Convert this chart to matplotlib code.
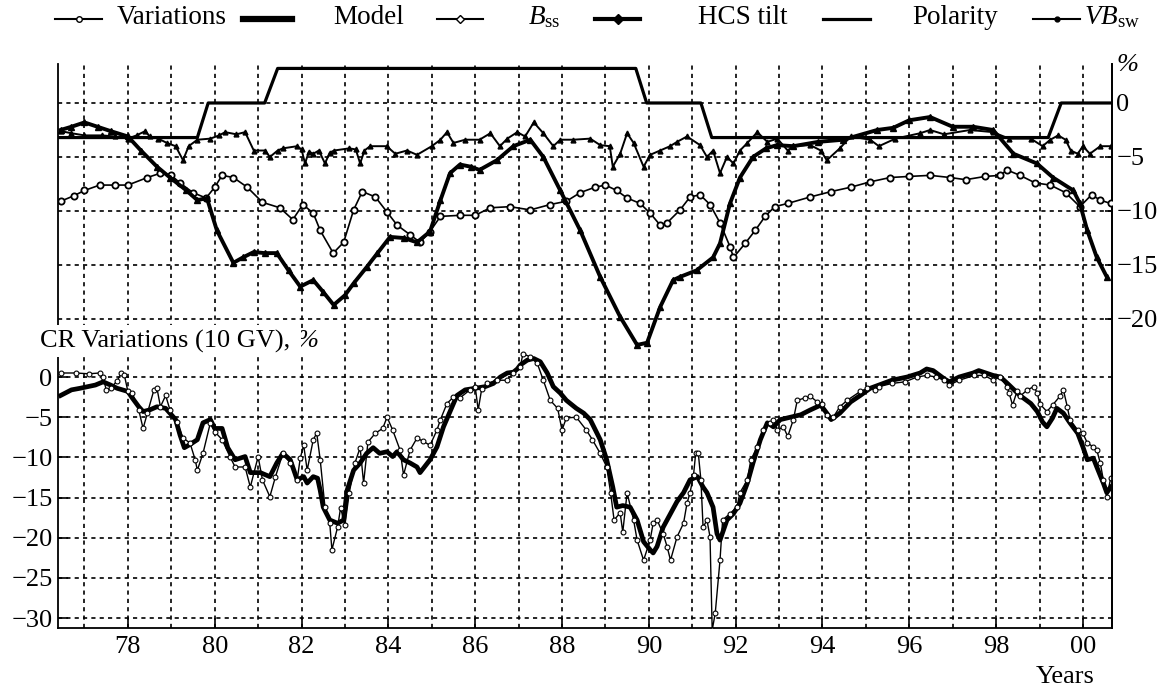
import matplotlib
matplotlib.use('Agg')
import matplotlib.pyplot as plt
from matplotlib.lines import Line2D

plt.rcParams['font.family'] = ['Liberation Serif', 'DejaVu Serif']
plt.rcParams['mathtext.fontset'] = 'custom'
plt.rcParams['mathtext.rm'] = 'Liberation Serif'
plt.rcParams['mathtext.it'] = 'Liberation Serif:italic'
plt.rcParams['axes.unicode_minus'] = True

# ---------------- data ----------------
pol_years = [1976.39, 1979.6, 1979.85, 1981.15, 1981.45, 1989.7, 1989.95,
             1991.2, 1991.45, 1999.2, 1999.5, 2000.67]
pol_vals = [-3.2, -3.2, 0, 0, 3.2, 3.2, 0, 0, -3.2, -3.2, 0, 0]

hcs_years = [1976.45, 1976.7, 1977.0, 1977.3, 1977.6, 1978.0, 1978.3, 1978.67,
             1978.97, 1979.35, 1979.6, 1979.82, 1980.05, 1980.43, 1980.65, 1980.9,
             1981.15, 1981.43, 1981.7, 1981.97, 1982.27, 1982.5, 1982.74, 1983.0,
             1983.2, 1983.5, 1983.75, 1984.04, 1984.35, 1984.66, 1984.96, 1985.2,
             1985.42, 1985.65, 1985.9, 1986.1, 1986.5, 1986.88, 1987.27, 1987.57,
             1987.96, 1988.42, 1988.88, 1989.34, 1989.73, 1989.96, 1990.26, 1990.56,
             1990.72, 1991.1, 1991.48, 1991.64, 1991.87, 1992.1, 1992.4, 1992.7,
             1992.95, 1993.33, 1993.9, 1994.48, 1995.26, 1995.63, 1996.0, 1996.48,
             1997.0, 1997.47, 1997.93, 1998.4, 1998.94, 1999.31, 1999.78, 1999.93,
             2000.1, 2000.32, 2000.55]
hcs_vals = [-2.5, -2.2, -1.8, -2.2, -2.6, -3.1, -4.4, -5.9,
            -6.9, -8.1, -9.0, -8.8, -11.8, -14.8, -14.3, -13.8,
            -13.9, -13.9, -15.5, -17.0, -16.4, -17.5, -18.7, -17.8,
            -16.7, -15.2, -13.9, -12.4, -12.5, -12.9, -11.9, -9.0,
            -6.5, -5.7, -5.9, -6.2, -5.3, -4.0, -3.4, -5.0,
            -8.1, -11.8, -16.1, -19.8, -22.4, -22.2, -18.9, -16.4,
            -16.1, -15.5, -14.3, -13.0, -9.3, -6.9, -5.0, -4.2,
            -3.9, -4.0, -3.6, -3.4, -2.5, -2.3, -1.6, -1.3,
            -2.2, -2.2, -2.5, -4.7, -5.6, -6.9, -8.1, -9.3,
            -11.8, -14.3, -16.1]

bss_years = [1976.45, 1976.75, 1977.0, 1977.35, 1977.7, 1978.0, 1978.45, 1978.75,
             1979.0, 1979.2, 1979.5, 1979.8, 1980.0, 1980.17, 1980.43, 1980.75,
             1981.1, 1981.5, 1981.8, 1982.03, 1982.27, 1982.43, 1982.73, 1982.97,
             1983.2, 1983.4, 1983.7, 1983.97, 1984.2, 1984.5, 1984.73, 1984.96,
             1985.2, 1985.65, 1986.0, 1986.35, 1986.8, 1987.27, 1987.73, 1988.1,
             1988.42, 1988.76, 1989.0, 1989.26, 1989.5, 1989.8, 1990.03, 1990.26,
             1990.42, 1990.72, 1990.95, 1991.18, 1991.41, 1991.64, 1991.87, 1991.95,
             1992.22, 1992.45, 1992.68, 1992.9, 1993.2, 1993.72, 1994.2, 1994.65,
             1995.1, 1995.56, 1996.0, 1996.48, 1996.94, 1997.3, 1997.75, 1998.1,
             1998.25, 1998.55, 1998.9, 1999.25, 1999.6, 1999.93, 2000.2, 2000.4,
             2000.64]
bss_vals = [-9.1, -8.6, -8.1, -7.6, -7.6, -7.6, -6.9, -6.5,
            -6.7, -7.4, -8.3, -8.8, -7.8, -6.7, -6.9, -7.8,
            -9.2, -9.7, -10.8, -9.4, -10.2, -11.8, -13.9, -12.9,
            -9.9, -8.2, -8.7, -10.1, -11.3, -12.2, -12.9, -11.9,
            -10.5, -10.4, -10.4, -9.7, -9.6, -9.9, -9.4, -9.1,
            -8.3, -7.8, -7.6, -8.1, -8.8, -9.3, -10.2, -11.3,
            -11.1, -9.9, -8.7, -8.5, -9.4, -11.1, -13.3, -14.3,
            -13.0, -11.8, -10.5, -9.6, -9.3, -8.7, -8.2, -7.8,
            -7.3, -6.9, -6.8, -6.7, -6.9, -7.1, -6.8, -6.7,
            -6.2, -6.7, -7.4, -7.6, -8.3, -9.6, -8.5, -9.0,
            -9.3]

vbsw_years = [1976.45, 1976.7, 1977.0, 1977.4, 1977.7, 1978.0, 1978.2, 1978.4,
              1978.5, 1978.7, 1978.9, 1979.1, 1979.27, 1979.4, 1979.6, 1979.9,
              1980.1, 1980.24, 1980.5, 1980.7, 1980.9, 1981.16, 1981.27, 1981.45,
              1981.57, 1981.9, 1982.0, 1982.08, 1982.17, 1982.27, 1982.4, 1982.54,
              1982.65, 1982.75, 1983.1, 1983.25, 1983.35, 1983.45, 1983.58, 1983.96,
              1984.16, 1984.43, 1984.66, 1985.0, 1985.2, 1985.35, 1985.5, 1985.77,
              1986.1, 1986.35, 1986.57, 1986.74, 1986.97, 1987.15, 1987.35, 1987.57,
              1987.8, 1987.96, 1988.26, 1988.65, 1988.88, 1989.1, 1989.17, 1989.34,
              1989.5, 1989.65, 1989.88, 1990.03, 1990.26, 1990.49, 1990.65, 1990.88,
              1991.18, 1991.34, 1991.48, 1991.64, 1991.8, 1991.95, 1992.1, 1992.27,
              1992.5, 1992.73, 1992.96, 1993.2, 1993.33, 1993.72, 1993.96, 1994.1,
              1994.4, 1994.65, 1995.1, 1995.3, 1995.68, 1996.25, 1996.48, 1996.8,
              1997.4, 1997.93, 1998.3, 1998.8, 1999.07, 1999.25, 1999.43, 1999.6,
              1999.72, 1999.88, 2000.0, 2000.16, 2000.4, 2000.64]
vbsw_vals = [-2.6, -2.8, -3.0, -3.0, -3.1, -3.3, -3.0, -2.6,
             -3.1, -3.3, -3.7, -4.0, -5.3, -4.0, -3.4, -3.3,
             -3.0, -2.7, -2.9, -2.7, -4.4, -4.4, -5.0, -4.4,
             -4.2, -4.0, -4.3, -5.6, -4.5, -4.7, -4.4, -5.6,
             -4.6, -4.4, -4.2, -4.3, -5.6, -4.4, -4.0, -4.0,
             -4.7, -4.4, -4.8, -4.0, -3.4, -2.7, -3.7, -3.4,
             -3.4, -2.8, -4.0, -3.3, -2.7, -3.1, -1.8, -2.8,
             -4.0, -3.4, -3.4, -3.3, -3.9, -4.0, -5.9, -4.7,
             -2.8, -3.7, -5.9, -4.8, -4.4, -4.0, -3.6, -3.1,
             -3.9, -5.0, -4.4, -6.5, -5.0, -5.6, -4.4, -3.7,
             -2.7, -3.6, -3.3, -4.4, -4.0, -3.9, -4.4, -5.3,
             -4.2, -3.1, -3.4, -4.0, -3.3, -2.8, -2.5, -2.9,
             -2.5, -2.7, -3.3, -3.3, -4.0, -3.4, -3.0, -3.4,
             -4.4, -4.7, -4.0, -4.7, -4.0, -4.0]

var_years = [1976.45, 1976.8, 1977.1, 1977.35, 1977.43, 1977.5, 1977.6, 1977.75,
             1977.85, 1977.92, 1978.0, 1978.1, 1978.25, 1978.35, 1978.45, 1978.6,
             1978.67, 1978.75, 1978.87, 1978.97, 1979.13, 1979.27, 1979.43, 1979.55,
             1979.6, 1979.73, 1979.9, 1980.0, 1980.17, 1980.35, 1980.47, 1980.7,
             1980.82, 1981.0, 1981.1, 1981.27, 1981.4, 1981.57, 1981.74, 1981.9,
             1981.97, 1982.05, 1982.13, 1982.27, 1982.35, 1982.43, 1982.54, 1982.65,
             1982.7, 1982.83, 1982.9, 1983.0, 1983.1, 1983.23, 1983.35, 1983.43,
             1983.53, 1983.7, 1983.87, 1983.97, 1984.1, 1984.27, 1984.35, 1984.5,
             1984.66, 1984.8, 1984.96, 1985.12, 1985.2, 1985.35, 1985.5, 1985.65,
             1985.88, 1986.0, 1986.07, 1986.15, 1986.27, 1986.5, 1986.73, 1986.88,
             1987.04, 1987.1, 1987.27, 1987.43, 1987.57, 1987.73, 1987.9, 1988.0,
             1988.1, 1988.33, 1988.56, 1988.7, 1988.88, 1989.03, 1989.12, 1989.2,
             1989.34, 1989.4, 1989.5, 1989.65, 1989.73, 1989.88, 1990.03, 1990.1,
             1990.19, 1990.33, 1990.42, 1990.5, 1990.65, 1990.8, 1990.88, 1990.95,
             1991.03, 1991.08, 1991.14, 1991.2, 1991.25, 1991.34, 1991.41, 1991.46,
             1991.53, 1991.64, 1991.7, 1991.87, 1992.03, 1992.1, 1992.27, 1992.35,
             1992.5, 1992.64, 1992.8, 1992.87, 1992.96, 1993.1, 1993.2, 1993.33,
             1993.42, 1993.6, 1993.72, 1993.88, 1994.0, 1994.1, 1994.25, 1994.4,
             1994.57, 1994.87, 1995.03, 1995.2, 1995.3, 1995.6, 1995.9, 1996.18,
             1996.4, 1996.62, 1996.8, 1996.92, 1997.15, 1997.5, 1997.73, 1997.93,
             1998.1, 1998.25, 1998.3, 1998.38, 1998.48, 1998.55, 1998.72, 1998.87,
             1998.95, 1999.0, 1999.17, 1999.3, 1999.47, 1999.55, 1999.64, 1999.7,
             1999.88, 2000.0, 2000.1, 2000.24, 2000.32, 2000.4, 2000.47, 2000.55,
             2000.64]
var_vals = [0.5, 0.5, 0.4, 0.5, 0.0, -1.6, -1.4, -0.5,
            0.5, 0.2, -1.8, -2.0, -4.1, -6.4, -4.5, -1.6,
            -1.4, -3.7, -2.3, -4.1, -5.6, -7.6, -8.2, -10.3,
            -11.6, -9.5, -5.7, -6.8, -7.8, -9.9, -11.2, -11.2,
            -13.7, -9.9, -12.8, -14.9, -12.4, -9.5, -10.7, -12.8,
            -10.1, -8.5, -11.6, -7.8, -7.0, -10.3, -16.2, -18.2,
            -21.5, -18.7, -16.3, -18.4, -14.4, -10.7, -8.8, -13.2,
            -8.1, -7.0, -6.4, -5.0, -6.6, -9.1, -12.2, -9.1,
            -7.6, -8.0, -8.5, -6.6, -5.3, -3.3, -2.5, -2.6,
            -1.6, -1.2, -4.1, -1.5, -0.8, -0.4, -0.4, 0.5,
            1.3, 2.9, 2.5, 1.7, -0.4, -2.9, -3.9, -6.6,
            -5.1, -5.0, -6.6, -7.8, -9.5, -11.2, -14.4, -17.8,
            -16.9, -19.3, -14.4, -17.8, -20.3, -22.8, -20.3, -18.2,
            -17.8, -19.5, -21.1, -22.8, -19.9, -18.2, -15.7, -14.4,
            -12.2, -9.5, -9.5, -12.8, -18.7, -17.8, -19.9, -31.5,
            -29.4, -22.8, -17.8, -17.0, -16.2, -14.4, -12.8, -10.3,
            -8.7, -6.6, -5.7, -5.3, -6.6, -6.2, -7.4, -5.3,
            -2.9, -2.6, -2.4, -3.1, -3.3, -4.7, -5.0, -3.7,
            -2.9, -1.8, -1.4, -1.6, -1.2, -0.8, -0.6, 0.0,
            0.2, 0.0, -0.4, -1.0, -0.4, 0.2, 0.2, -0.4,
            0.0, -1.2, -2.0, -3.5, -1.8, -2.4, -1.6, -1.2,
            -2.0, -3.3, -4.3, -3.5, -2.4, -1.6, -3.7, -5.3,
            -6.6, -7.0, -8.2, -8.7, -9.1, -10.7, -12.8, -14.9,
            -12.6]

model_years = [1976.45, 1976.7, 1976.9, 1977.25, 1977.43, 1977.6, 1977.75, 1978.0,
               1978.1, 1978.25, 1978.35, 1978.5, 1978.67, 1978.87, 1978.97, 1979.1,
               1979.2, 1979.3, 1979.43, 1979.6, 1979.73, 1979.9, 1980.0, 1980.17,
               1980.3, 1980.47, 1980.7, 1980.82, 1981.05, 1981.27, 1981.43, 1981.57,
               1981.74, 1981.9, 1982.05, 1982.13, 1982.27, 1982.37, 1982.43, 1982.5,
               1982.65, 1982.83, 1982.97, 1983.05, 1983.2, 1983.35, 1983.5, 1983.65,
               1983.8, 1983.97, 1984.1, 1984.2, 1984.35, 1984.5, 1984.66, 1984.73,
               1984.96, 1985.12, 1985.27, 1985.42, 1985.58, 1985.77, 1986.0, 1986.23,
               1986.42, 1986.58, 1986.74, 1986.88, 1986.97, 1987.04, 1987.2, 1987.35,
               1987.5, 1987.66, 1987.8, 1987.96, 1988.1, 1988.33, 1988.5, 1988.65,
               1988.88, 1989.03, 1989.17, 1989.26, 1989.4, 1989.57, 1989.73, 1989.88,
               1990.03, 1990.1, 1990.19, 1990.33, 1990.5, 1990.65, 1990.8, 1990.95,
               1991.12, 1991.25, 1991.34, 1991.48, 1991.57, 1991.64, 1991.8, 1991.95,
               1992.1, 1992.27, 1992.4, 1992.57, 1992.73, 1992.87, 1993.03, 1993.26,
               1993.5, 1993.72, 1993.96, 1994.1, 1994.2, 1994.4, 1994.65, 1994.87,
               1995.1, 1995.3, 1995.6, 1995.95, 1996.25, 1996.4, 1996.55, 1996.8,
               1996.92, 1997.15, 1997.47, 1997.6, 1997.93, 1998.1, 1998.3, 1998.55,
               1998.8, 1998.95, 1999.07, 1999.17, 1999.3, 1999.4, 1999.55, 1999.7,
               1999.88, 2000.0, 2000.1, 2000.24, 2000.32, 2000.47, 2000.55, 2000.64]
model_vals = [-2.3, -1.6, -1.4, -1.0, -0.6, -1.0, -1.4, -1.8,
              -2.6, -3.7, -4.3, -4.1, -3.7, -3.9, -4.5, -5.3,
              -7.2, -8.8, -8.4, -7.8, -5.7, -5.3, -6.4, -6.4,
              -8.8, -10.3, -9.9, -11.9, -11.9, -12.4, -10.7, -9.5,
              -10.3, -12.8, -12.4, -13.2, -12.4, -12.6, -14.1, -16.2,
              -17.8, -18.2, -17.8, -14.1, -11.6, -10.7, -9.5, -8.8,
              -9.5, -9.3, -9.9, -9.3, -10.3, -10.7, -11.2, -11.9,
              -10.3, -8.7, -6.2, -4.3, -2.3, -1.6, -1.4, -1.2,
              -0.8, 0.0, 0.5, 0.6, 1.0, 1.5, 2.1, 2.3,
              1.9, 0.5, -1.2, -2.0, -2.9, -3.9, -4.5, -5.3,
              -7.8, -10.3, -13.7, -16.2, -16.0, -16.2, -17.8, -20.5,
              -21.5, -21.9, -21.1, -18.7, -17.0, -15.5, -14.4, -12.8,
              -12.4, -13.7, -14.4, -16.2, -19.5, -20.3, -17.8, -17.0,
              -15.7, -13.2, -10.7, -7.8, -5.7, -6.2, -5.3, -5.0,
              -4.7, -4.1, -3.5, -4.5, -5.3, -4.5, -3.1, -2.3,
              -1.4, -1.0, -0.4, 0.0, 0.5, 1.0, 0.8, -0.2,
              -0.6, 0.0, 0.5, 0.8, 0.2, 0.0, -1.0, -2.3,
              -3.3, -4.3, -5.6, -6.2, -5.1, -3.9, -4.5, -5.7,
              -7.0, -8.7, -10.3, -10.1, -11.2, -13.2, -14.4, -13.7]

xtick_years = list(range(1978, 2001, 2))
xtick_labels = ['78', '80', '82', '84', '86', '88', '90', '92', '94', '96', '98', '00']
grid_years = list(range(1977, 2001))
bottom_yticks = [0, -5, -10, -15, -20, -25, -30]
top_yticks = [0, -5, -10, -15, -20]

# ---------------- figure ----------------
FS = 19
W, H = 1163, 690
fig = plt.figure(figsize=(W / 100, H / 100), dpi=100)
ax = fig.add_axes([58 / W, 1 - 628 / H, (1112 - 58) / W, (628 - 64) / H])
ax2 = ax.twinx()

ax.set_xlim(1976.39, 2000.67)
ax.set_ylim(-31.24, 38.96)
ax2.set_ylim(-48.61, 3.61)

gstyle = dict(color='black', linestyle=(0, (2.5, 2.5)), linewidth=1.2)
ax.set_xticks(xtick_years)
ax.set_xticklabels(xtick_labels)
ax.set_xticks(grid_years, minor=True)
ax.set_yticks(bottom_yticks)
ax2.set_yticks(top_yticks)
ax.grid(True, axis='x', which='both', **gstyle)
ax.grid(True, axis='y', which='major', **gstyle)
ax2.grid(True, axis='y', which='major', **gstyle)
ax.set_axisbelow(True)

ax.tick_params(axis='x', which='major', direction='in', length=7, width=1.2,
               labelsize=FS, pad=6)
ax.tick_params(axis='x', which='minor', length=0)
ax.tick_params(axis='y', direction='in', length=7, width=1.2, labelsize=FS, pad=4)
ax2.tick_params(axis='y', direction='in', length=5, width=1.2, labelsize=FS, pad=3)

ax.spines['top'].set_visible(False)
for s in ['top', 'left', 'bottom']:
    ax2.spines[s].set_visible(False)
for sp in list(ax.spines.values()) + list(ax2.spines.values()):
    sp.set_linewidth(1.3)

# bottom panel
ax.plot(model_years, model_vals, color='black', lw=3.4, solid_joinstyle='round', zorder=3)
ax.plot(var_years, var_vals, color='black', lw=1.0, marker='o', ms=3.5,
        mfc='white', mec='black', mew=0.8, zorder=4)

# top panel
ax2.plot(pol_years, pol_vals, color='black', lw=2.3, zorder=3)
ax2.plot(bss_years, bss_vals, color='black', lw=1.2, marker='o', ms=4.5,
         mfc='white', mec='black', mew=1.3, zorder=3)
ax2.plot(hcs_years, hcs_vals, color='black', lw=2.8, marker='^', ms=4,
         mfc='black', mec='black', zorder=4)
ax2.plot(vbsw_years, vbsw_vals, color='black', lw=1.4, marker='^', ms=3.5,
         mfc='black', mec='black', zorder=4)

# texts
white_box = dict(facecolor='white', edgecolor='none', pad=3)
cr_label = fig.text(40 / W, 1 - 341 / H, 'CR Variations (10 GV), ', fontsize=FS,
                    ha='left', va='center', zorder=10, bbox=white_box)
ax2.annotate('%', xy=(1.0, 0.5), xycoords=cr_label, fontsize=FS, style='italic',
             ha='left', va='center', annotation_clip=False, zorder=10,
             bbox=dict(facecolor='white', edgecolor='none', pad=1))
fig.text(1117 / W, 1 - 65 / H, '%', fontsize=FS, style='italic', ha='left', va='center')
fig.text(1095 / W, 1 - 677 / H, 'Years', fontsize=FS, ha='right', va='center')

# legend (manually laid out row)
leg_labels = ['Variations', 'Model', r'$B_{\mathrm{ss}}$', 'HCS tilt', 'Polarity',
              r'$VB_{\mathrm{sw}}$']
leg_handle_x = [(55, 102), (243, 292), (437, 483), (595, 640), (823, 870), (1033, 1080)]
leg_text_x = [117, 333, 528, 698, 912, 1084]
leg_lw = [1.5, 4.5, 1.5, 3.0, 2.3, 1.5]
leg_marker = ['o', None, 'D', 'D', None, 'o']
leg_mfc = ['white', None, 'white', 'black', None, 'black']
leg_ms = [4, 0, 4.5, 5, 0, 3.5]
ly = 1 - 19 / H
for lab, (x0, x1), tx, lw, mk, mfc, ms in zip(leg_labels, leg_handle_x, leg_text_x,
                                              leg_lw, leg_marker, leg_mfc, leg_ms):
    fig.add_artist(Line2D([x0 / W, x1 / W], [ly, ly], transform=fig.transFigure,
                          color='black', lw=lw))
    if mk is not None:
        fig.add_artist(Line2D([(x0 + x1) / 2 / W], [ly], transform=fig.transFigure,
                              marker=mk, ms=ms, mfc=mfc, mec='black', mew=1.0,
                              color='black', lw=0))
    fig.text(tx / W, 1 - 17 / H, lab, fontsize=19.5, ha='left', va='center')

fig.savefig('out.png', dpi=100)
